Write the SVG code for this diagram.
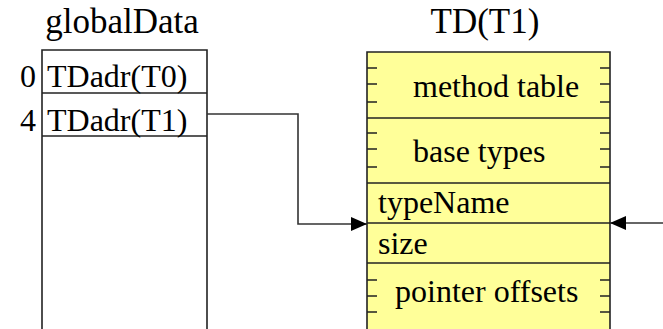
<svg xmlns="http://www.w3.org/2000/svg" width="663" height="329" viewBox="0 0 663 329">
<defs>
<style>
text{font-family:'Liberation Serif','Times New Roman',serif;fill:#000}
.t{font-size:32px}
.h{font-size:35px}
.b{fill:none;stroke:#222;stroke-width:1.6}
.y{fill:#ffff99;stroke:#222;stroke-width:1.6}
.tk{stroke:#222;stroke-width:1.6}
.c{fill:none;stroke:#333;stroke-width:1.6}
</style>
<marker id="ar" markerWidth="16" markerHeight="14" refX="16" refY="7" orient="auto" markerUnits="userSpaceOnUse">
<path d="M0,0 L16,7 L0,14 Z" fill="#000"/>
</marker>
</defs>
<rect width="663" height="329" fill="#fff"/>
<g id="globalData">
<text class="h" x="122" y="33" text-anchor="middle">globalData</text>
<path class="b" d="M42,332 V50 H207 V332"/>
<line class="tk" x1="42" y1="93" x2="207" y2="93"/>
<line class="tk" x1="42" y1="136" x2="207" y2="136"/>
<text class="t" x="36" y="87" text-anchor="end">0</text>
<text class="t" x="47" y="87">TDadr(T0)</text>
<text class="t" x="36" y="131" text-anchor="end">4</text>
<text class="t" x="47" y="131">TDadr(T1)</text>
</g>
<g id="TD">
<text class="h" x="485" y="33" text-anchor="middle">TD(T1)</text>
<path class="y" d="M367,332 V52 H610 V332"/>
<line class="tk" x1="367" y1="118" x2="610" y2="118"/>
<line class="tk" x1="367" y1="183" x2="610" y2="183"/>
<line class="tk" x1="367" y1="223" x2="610" y2="223"/>
<line class="tk" x1="367" y1="263" x2="610" y2="263"/>
<path class="tk" d="M367,68 h10 M367,84 h10 M367,102 h10 M600,68 h10 M600,84 h10 M600,102 h10 M367,133 h10 M367,149 h10 M367,167 h10 M600,133 h10 M600,149 h10 M600,167 h10 M367,280 h10 M367,296 h10 M367,312 h10 M600,280 h10 M600,296 h10 M600,312 h10"/>
<text class="t" x="413" y="97">method table</text>
<text class="t" x="413" y="162">base types</text>
<text class="t" x="378" y="213">typeName</text>
<text class="t" x="378" y="254">size</text>
<text class="t" x="395" y="302">pointer offsets</text>
</g>
<g id="connectors">
<path class="c" d="M207,114 H298 V224 H367" marker-end="url(#ar)"/>
<path class="c" d="M663,223 H610" marker-end="url(#ar)"/>
</g>
</svg>
